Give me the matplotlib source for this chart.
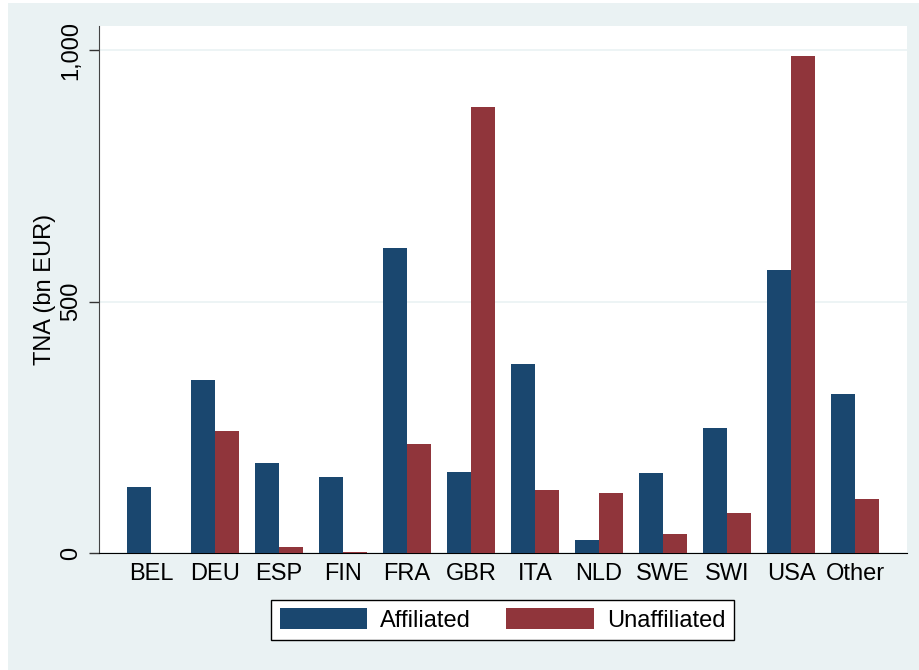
import matplotlib
matplotlib.use("Agg")
import matplotlib.pyplot as plt
import matplotlib.patches as mpatches
import numpy as np

plt.rcParams["font.family"] = ["Liberation Sans", "DejaVu Sans"]

countries = ["BEL", "DEU", "ESP", "FIN", "FRA", "GBR", "ITA", "NLD", "SWE", "SWI", "USA", "Other"]
affiliated = [132, 344, 179, 151, 606, 161, 376, 26, 159, 249, 563, 316]
unaffiliated = [0, 243, 12, 2, 217, 887, 125, 120, 38, 79, 988, 108]

navy = "#1A476F"
maroon = "#90353B"
bg = "#EAF2F3"
fs = 17

fig = plt.figure(figsize=(9.2, 6.7), dpi=100)
fig.patch.set_facecolor("white")
# Stata-style grey background panel
fig.patches.append(mpatches.Rectangle((8 / 920, 0), 1, 1 - 3 / 670, transform=fig.transFigure,
                                      facecolor=bg, edgecolor="none", zorder=-10))

ax = fig.add_axes([99 / 920, 117 / 670, 808 / 920, 527 / 670])
ax.set_facecolor("white")

x = np.arange(len(countries))
w = 0.375
ax.bar(x - w / 2, affiliated, w, color=navy, label="Affiliated", zorder=3)
ax.bar(x + w / 2, unaffiliated, w, color=maroon, label="Unaffiliated", zorder=3)

ax.set_xlim(-0.8125, len(countries) - 1 + 0.8125)
ax.set_ylim(0, 1048)
ax.set_yticks([0, 500, 1000])
ax.set_yticklabels(["0", "500", "1,000"], rotation=90, va="center", fontsize=fs)
ax.yaxis.grid(True, color=bg, linewidth=1.2, zorder=0)
ax.set_xticks(x)
ax.set_xticklabels(countries, fontsize=fs)
ax.tick_params(axis="x", length=0, pad=7)
ax.tick_params(axis="y", length=7, width=1, pad=5, color="#333333")

for side in ["top", "right"]:
    ax.spines[side].set_visible(False)
ax.spines["left"].set_color("#444444")
ax.spines["bottom"].set_color("black")

ax.set_ylabel("TNA (bn EUR)", fontsize=fs, labelpad=3)

leg = fig.legend(loc="center", bbox_to_anchor=(502.5 / 920, 1 - 620 / 670), ncol=2, fontsize=fs,
                 frameon=True, fancybox=False, edgecolor="black", framealpha=1,
                 handlelength=3.7, handleheight=1.0, handletextpad=0.55, columnspacing=1.5,
                 borderpad=0.35)
leg.get_frame().set_linewidth(1.0)

fig.savefig("out.png", dpi=100, facecolor=fig.get_facecolor())
